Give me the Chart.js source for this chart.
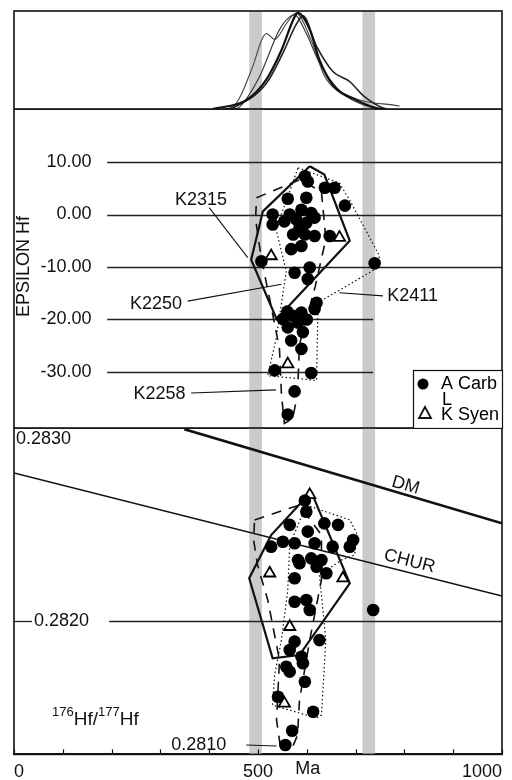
<!DOCTYPE html>
<html>
<head>
<meta charset="utf-8">
<script src="https://cdn.jsdelivr.net/npm/chart.js@4.4.1/dist/chart.umd.min.js"></script>
<style>
  html, body { margin: 0; padding: 0; background: #fff; }
  #wrap { position: relative; width: 512px; height: 780px; overflow: hidden; }
  canvas { position: absolute; left: 0; }
  #kdeChart { top: 0; }
  #epsChart { top: 109px; }
  #hfChart { top: 428px; }
</style>
</head>
<body>
<div id="wrap">
  <canvas id="kdeChart" width="512" height="110"></canvas>
  <canvas id="epsChart" width="512" height="320"></canvas>
  <canvas id="hfChart" width="512" height="362"></canvas>
</div>
<script>
// shared age axis (Ma)
const ageTicks = [0, 100, 200, 300, 400, 500, 600, 700, 800, 900, 1000];
const ageTickLabels = ['0', '', '', '', '', '500', '', '', '', '', '1000'];
const greyBands = [[482, 508], [714, 740]];

// top panel - relative probability curves [age, density]
const kdeShoulder = [[430, 0], [448, 0.02], [489, 0.43], [507, 0.70], [517, 0.77], [534, 0.71], [558, 0.87], [578, 0.98], [609, 0.70], [637, 0.33], [688, 0.13], [790, 0.03]];
const kdeMain = [[407, 0], [476, 0.09], [517, 0.30], [548, 0.60], [575, 0.94], [582, 0.98], [606, 0.81], [626, 0.50], [654, 0.24], [702, 0.09], [743, 0.01], [760, 0]];
const kdeRightTail = [[440, 0], [448, 0.01], [517, 0.26], [551, 0.57], [578, 0.86], [592, 0.95], [620, 0.64], [654, 0.38], [688, 0.28], [715, 0.14], [756, 0.01], [765, 0]];
const kdeBroad = [[450, 0], [462, 0.02], [503, 0.33], [544, 0.81], [565, 0.94], [575, 0.96], [599, 0.77], [626, 0.47], [673, 0.16], [729, 0.02], [745, 0]];

// middle panel - epsilon Hf [age, eps]
const epsTicks = [10, 0, -10, -20, -30];
const epsCarb = [
  [596, 7.3], [602, 6.3], [637, 5.1], [657, 5.1], [561, 3.0], [599, 3.2], [678, 1.7],
  [530, 0], [565, 0], [589, 0.9], [609, 0.3], [530, -1.9], [554, -1.3], [578, -0.9],
  [599, -1.6], [616, -0.6], [585, -2.5], [572, -3.8], [596, -3.8], [616, -4.1], [647, -4.1],
  [568, -6.6], [589, -6.0], [507, -8.9], [575, -11.1], [606, -10.1], [602, -12.3], [739, -9.3],
  [620, -16.8], [616, -18.0], [551, -19.9], [572, -19.3], [589, -18.7], [560, -18.5], [600, -20.0],
  [582, -20.6], [561, -21.5], [592, -22.4], [568, -24.0], [589, -25.6], [534, -29.7], [609, -30.2],
  [575, -33.7], [561, -38.1]
];
const epsSyen = [[527, -7.9], [667, -4.4], [561, -28.5]];
const epsSolidEnv = [[606, 9.2], [636, 7.6], [688, -5.0], [538, -19.9], [486, -8.6], [510, 0.6]];
const epsDashedEnv = [[497, 3.2], [585, 6.6], [630, 4.4], [639, -4.7], [616, -14.2], [585, -24.7], [581, -34.2], [571, -38.9], [554, -39.8], [548, -34.2], [544, -25.6], [524, -16.1], [507, -8.5], [495, -0.9]];
const epsDottedEnv = [[582, 8.9], [667, 6.0], [691, 2.2], [749, -7.9], [746, -10.1], [623, -16.8], [620, -31.6], [520, -30.7], [537, -23.7], [558, -10.8], [537, -2.8]];

// bottom panel - 176Hf/177Hf [age, ratio]
const hfTickLabels = ['0.2830', '0.2820', '0.2810'];
const hfTickValues = [0.28295, 0.2820, 0.28135];
const hfCarb = [
  [596, 0.28263], [599, 0.282572], [565, 0.282503], [602, 0.282468], [636, 0.282511], [664, 0.282503],
  [695, 0.282424], [688, 0.282389], [527, 0.282389], [551, 0.282415], [575, 0.282407], [616, 0.282407],
  [653, 0.282389], [582, 0.282319], [609, 0.282328], [630, 0.282319], [585, 0.282302], [620, 0.282284],
  [640, 0.28225], [575, 0.282224], [575, 0.282101], [599, 0.28211], [606, 0.282058], [736, 0.282058],
  [575, 0.281892], [626, 0.2819], [565, 0.281848], [589, 0.281813], [558, 0.281761], [592, 0.281779],
  [565, 0.281735], [596, 0.281682], [541, 0.281604], [613, 0.281525], [570, 0.281426], [556, 0.281351]
];
const hfSyen = [[606, 0.28266], [524, 0.28225], [674, 0.282224], [565, 0.28197], [554, 0.281569]];
const hfSolidEnv = [[609, 0.282677], [688, 0.282197], [585, 0.281822], [530, 0.281805], [482, 0.282224], [527, 0.28245]];
const hfDashedEnv = [[493, 0.282529], [585, 0.282607], [630, 0.28245], [630, 0.282215], [606, 0.2819], [585, 0.281586], [581, 0.281403], [565, 0.281304], [548, 0.281304], [538, 0.281482], [544, 0.281796], [520, 0.28211], [499, 0.282293], [491, 0.282424]];
const hfDottedEnv = [[599, 0.282607], [688, 0.282529], [704, 0.28245], [698, 0.282346], [671, 0.282319], [626, 0.282241], [639, 0.2819], [630, 0.281508], [620, 0.281492], [530, 0.28156], [534, 0.281717], [548, 0.2819], [561, 0.282162], [565, 0.282398]];
const dmCurve = [[349, 0.283004], [1000, 0.282511]];
const churCurve = [[0, 0.282775], [1000, 0.282131]];

const FONT = "'Liberation Sans', Arial, Helvetica, sans-serif";
const INK = '#111';
Chart.defaults.font.family = FONT;
Chart.defaults.color = INK;

const pts = arr => arr.map(([x, y]) => ({ x, y }));
const ring = arr => pts([...arr, arr[0]]);

const carbSet = data => ({ data: pts(data), pointStyle: 'circle', pointRadius: 6.3, backgroundColor: '#000', borderColor: '#000', borderWidth: 0 });
const syenSet = data => ({ data: pts(data), pointStyle: 'triangle', pointRadius: 6.5, backgroundColor: '#fff', borderColor: '#000', borderWidth: 1.8 });
const envSet = (data, dash, width) => ({ data: ring(data), showLine: true, pointRadius: 0, borderColor: INK, borderWidth: width, borderDash: dash, fill: false });
const kdeSet = (data, width, color) => ({ data: pts(data), showLine: true, pointRadius: 0, borderColor: color, borderWidth: width, tension: 0.4, cubicInterpolationMode: 'monotone', fill: false });

// bands, rules, labels and frame for one panel
function makeDecor(cfg) {
    return {
        id: 'decor',
        beforeDatasetsDraw(chart) {
            const { ctx, chartArea: a } = chart;
            const x = chart.scales.x, y = chart.scales.y;
            ctx.save();
            ctx.fillStyle = '#cbcbcb';
            greyBands.forEach(([lo, hi]) => {
                const l = x.getPixelForValue(lo), r = x.getPixelForValue(hi);
                ctx.fillRect(l, a.top, r - l, a.bottom - a.top);
            });
            ctx.strokeStyle = '#222';
            ctx.lineWidth = 1.3;
            (cfg.rules || []).forEach(([val, from, to]) => {
                const py = Math.round(y.getPixelForValue(val)) + 0.5;
                ctx.beginPath();
                ctx.moveTo(x.getPixelForValue(from), py);
                ctx.lineTo(x.getPixelForValue(to), py);
                ctx.stroke();
            });
            ctx.restore();
        },
        afterDatasetsDraw(chart) {
            const { ctx } = chart;
            const x = chart.scales.x, y = chart.scales.y;
            ctx.save();
            ctx.strokeStyle = INK;
            ctx.lineWidth = 1.1;
            (cfg.leaders || []).forEach(([x1, y1, x2, y2]) => {
                ctx.beginPath();
                ctx.moveTo(x.getPixelForValue(x1), y.getPixelForValue(y1));
                ctx.lineTo(x.getPixelForValue(x2), y.getPixelForValue(y2));
                ctx.stroke();
            });
            ctx.fillStyle = INK;
            ctx.textBaseline = 'middle';
            (cfg.texts || []).forEach(t => {
                ctx.save();
                ctx.font = `${t.size || 18}px ${FONT}`;
                ctx.textAlign = t.align || 'center';
                ctx.translate(x.getPixelForValue(t.x), y.getPixelForValue(t.y));
                if (t.rot) ctx.rotate(t.rot);
                ctx.fillText(t.text, 0, 0);
                ctx.restore();
            });
            (cfg.lineLabels || []).forEach(l => {
                const [p0, p1] = l.line;
                const x0 = x.getPixelForValue(p0[0]), y0 = y.getPixelForValue(p0[1]);
                const x1 = x.getPixelForValue(p1[0]), y1 = y.getPixelForValue(p1[1]);
                const ang = Math.atan2(y1 - y0, x1 - x0);
                const px = x.getPixelForValue(l.at);
                const py = y0 + (y1 - y0) * (px - x0) / (x1 - x0);
                ctx.save();
                ctx.translate(px, py);
                ctx.rotate(ang);
                ctx.font = `18px ${FONT}`;
                ctx.textAlign = 'center';
                ctx.fillText(l.text, 0, -l.lift);
                ctx.restore();
            });
            if (cfg.rich) {
                let px = x.getPixelForValue(cfg.rich.x);
                const py = y.getPixelForValue(cfg.rich.y);
                ctx.textAlign = 'left';
                ctx.textBaseline = 'alphabetic';
                cfg.rich.parts.forEach(([txt, sup]) => {
                    ctx.font = `${sup ? 13 : 19}px ${FONT}`;
                    ctx.fillText(txt, px, sup ? py - 9 : py);
                    px += ctx.measureText(txt).width;
                });
            }
            ctx.restore();
        },
        afterDraw(chart) {
            const { ctx, chartArea: a } = chart;
            ctx.save();
            ctx.strokeStyle = INK;
            ctx.lineWidth = 1.6;
            ctx.strokeRect(a.left, a.top, a.right - a.left, a.bottom - a.top);
            if (cfg.ticksUp) {
                const x = chart.scales.x;
                ctx.lineWidth = 1.2;
                ageTicks.forEach(v => {
                    const px = Math.round(x.getPixelForValue(v)) + 0.5;
                    ctx.beginPath();
                    ctx.moveTo(px, a.bottom);
                    ctx.lineTo(px, a.bottom - 5);
                    ctx.stroke();
                });
            }
            if (cfg.legend) drawLegend(ctx, a);
            ctx.restore();
        }
    };
}

function drawLegend(ctx, a) {
    const l = a.right - 89, t = a.bottom - 58;
    ctx.fillStyle = '#fff';
    ctx.fillRect(l, t, a.right - l, a.bottom - t);
    ctx.strokeStyle = INK;
    ctx.lineWidth = 1.2;
    ctx.strokeRect(l + 0.5, t + 0.5, a.right - l, a.bottom - t);
    ctx.fillStyle = '#000';
    ctx.beginPath();
    ctx.arc(l + 10, t + 14, 5.5, 0, Math.PI * 2);
    ctx.fill();
    ctx.lineWidth = 1.8;
    ctx.beginPath();
    ctx.moveTo(l + 12, t + 37);
    ctx.lineTo(l + 18, t + 48);
    ctx.lineTo(l + 6, t + 48);
    ctx.closePath();
    ctx.stroke();
    ctx.font = `18px ${FONT}`;
    ctx.textAlign = 'left';
    ctx.textBaseline = 'middle';
    ctx.fillText('A Carb', l + 28, t + 14);
    ctx.fillText('L', l + 29, t + 30);
    ctx.fillText('K Syen', l + 28, t + 45);
}

const hiddenX = { type: 'linear', min: 0, max: 1000, display: false };
const baseOptions = (yScale, padding, xScale) => ({
    responsive: false,
    animation: false,
    layout: { padding, autoPadding: false },
    plugins: { legend: { display: false }, tooltip: { enabled: false } },
    scales: { x: xScale || hiddenX, y: yScale }
});

// top: density curves
new Chart(document.getElementById('kdeChart'), {
    type: 'scatter',
    data: { datasets: [kdeSet(kdeMain, 2.2, '#111'), kdeSet(kdeRightTail, 1.6, '#222'), kdeSet(kdeShoulder, 1.1, '#444'), kdeSet(kdeBroad, 1.1, '#333')] },
    options: baseOptions({ type: 'linear', min: 0, max: 1, display: false }, { left: 14, right: 10, top: 11, bottom: 1 }),
    plugins: [makeDecor({})]
});

// middle: epsilon Hf
new Chart(document.getElementById('epsChart'), {
    type: 'scatter',
    data: { datasets: [carbSet(epsCarb), syenSet(epsSyen), envSet(epsSolidEnv, [], 2.2), envSet(epsDashedEnv, [10, 8], 1.6), envSet(epsDottedEnv, [1.5, 2.5], 1.2)] },
    options: baseOptions({ type: 'linear', min: -40.67, max: 20.1, display: false }, { left: 14, right: 10, top: 0, bottom: 1 }),
    plugins: [makeDecor({
        rules: epsTicks.map(v => [v, 191, v < -15 ? 736 : 1000]),
        texts: [
            ...epsTicks.map(v => ({ text: v.toFixed(2), x: 159, y: v, align: 'right' })),
            { text: 'EPSILON Hf', x: 21, y: -9.9, rot: -Math.PI / 2 },
            { text: 'K2315', x: 383, y: 2.8 },
            { text: 'K2250', x: 291, y: -17.1 },
            { text: 'K2411', x: 817, y: -15.6 },
            { text: 'K2258', x: 298, y: -34.2 }
        ],
        leaders: [[400, 1.3, 479, -8.2], [356, -16.5, 548, -13.3], [756, -15.5, 667, -14.9], [363, -34.0, 537, -33.4]],
        legend: true
    })]
});

// bottom: 176Hf/177Hf
new Chart(document.getElementById('hfChart'), {
    type: 'scatter',
    data: {
        datasets: [
            carbSet(hfCarb), syenSet(hfSyen),
            envSet(hfSolidEnv, [], 2.2), envSet(hfDashedEnv, [10, 8], 1.6), envSet(hfDottedEnv, [1.5, 2.5], 1.2),
            { data: pts(dmCurve), showLine: true, pointRadius: 0, borderColor: INK, borderWidth: 2.6 },
            { data: pts(churCurve), showLine: true, pointRadius: 0, borderColor: INK, borderWidth: 1.5 }
        ]
    },
    options: baseOptions({ type: 'linear', min: 0.281302, max: 0.28301, display: false }, { left: 14, right: 10, top: 0, bottom: 0 }, {
        type: 'linear', min: 0, max: 1000,
        afterBuildTicks: s => { s.ticks = ageTicks.map(v => ({ value: v })); },
        ticks: { autoSkip: false, maxRotation: 0, align: 'inner', padding: 7, font: { size: 18 }, color: INK, callback: (v, i) => ageTickLabels[i] },
        grid: { drawOnChartArea: false, drawTicks: false },
        border: { display: true, color: INK, width: 2 }
    }),
    plugins: [makeDecor({
        rules: [[0.2820, 0, 37], [0.2820, 195, 1000]],
        texts: [
            { text: hfTickLabels[0], x: 4, y: hfTickValues[0], align: 'left' },
            { text: hfTickLabels[1], x: 41, y: hfTickValues[1], align: 'left' },
            { text: hfTickLabels[2], x: 322, y: hfTickValues[2], align: 'left' },
            { text: 'Ma', x: 602, y: 0.281225 }
        ],
        leaders: [[476, 0.281351, 538, 0.281346]],
        lineLabels: [{ text: 'DM', line: dmCurve, at: 797, lift: 9 }, { text: 'CHUR', line: churCurve, at: 805, lift: 11 }],
        rich: { x: 78, y: 0.281455, parts: [['176', true], ['Hf/', false], ['177', true], ['Hf', false]] },
        ticksUp: true
    })]
});
</script>
</body>
</html>
